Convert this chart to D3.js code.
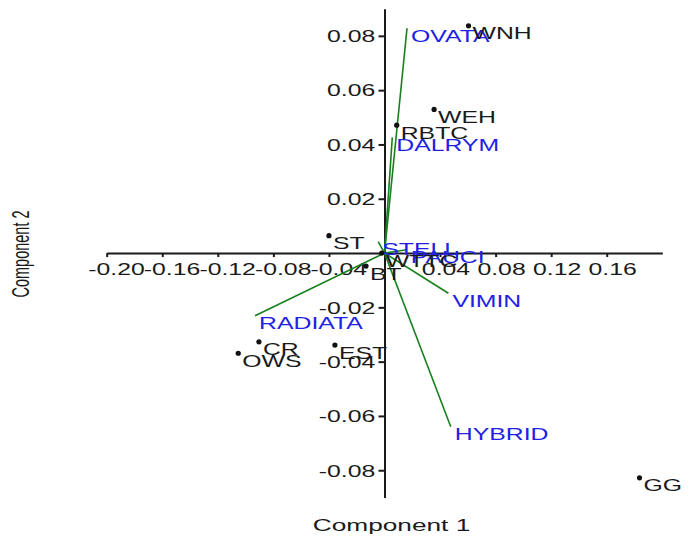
<!DOCTYPE html>
<html lang="en">

<head>
  <meta charset="UTF-8">
  <title>PCA biplot</title>
  <style>
    body {
      margin: 0px;
      background-color: #fff;
      overflow: hidden;
    }

    svg text {
      font-family: "Liberation Sans", Arial, Helvetica, sans-serif;
      font-size: 16px;
    }

    .axis path,
    .axis line {
      stroke: #1a1a1a;
      stroke-width: 2px;
    }

    .axis text {
      fill: #1a1a1a;
    }

    .vector {
      stroke: #16801c;
      stroke-width: 1.6px;
    }

    .vlabel {
      fill: #2121e3;
    }

    .plabel {
      fill: #1a1a1a;
    }
  </style>
  <script src="https://d3js.org/d3.v7.min.js"></script>
</head>

<body>
  <svg width="694" height="542"></svg>
  <script>
    // scores (rows)
    const pointNames = ["WNH", "WEH", "RBTC", "ST", "WTTC", "BT", "CR", "OWS", "EST", "GG"];
    const pointX = [0.0605, 0.0357, 0.0088, -0.0400, -0.0020, -0.0133, -0.0904, -0.1053, -0.0357, 0.1836];
    const pointY = [0.0837, 0.0529, 0.0471, 0.0064, 0.0000, -0.0048, -0.0327, -0.0369, -0.0339, -0.0828];

    // loadings (variables)
    const loadNames = ["OVATA", "DALRYM", "STELL", "PAUCI", "VIMIN", "HYBRID", "RADIATA"];
    const loadX = [0.0162, 0.0056, -0.0045, 0.0160, 0.0460, 0.0477, -0.0932];
    const loadY = [0.0828, 0.0426, 0.0042, 0.0012, -0.0148, -0.0640, -0.0231];

    const xTicks = [-0.20, -0.16, -0.12, -0.08, -0.04, 0.04, 0.08, 0.12, 0.16];
    const yTicks = [0.08, 0.06, 0.04, 0.02, -0.02, -0.04, -0.06, -0.08];

    const stretch = 1.55; // the original image text is wide
    const svg = d3.select("svg");

    const x = d3.scaleLinear().domain([-0.20, 0.20]).range([106.7, 662.3]);
    const y = d3.scaleLinear().domain([-0.09, 0.09]).range([497.4, 8.7]);

    const fmt = d => d3.format(".2f")(d).replace("\u2212", "-");

    const xAxis = svg.append("g")
      .attr("class", "axis")
      .attr("transform", `translate(0,${y(0)})`)
      .call(d3.axisBottom(x).tickValues(xTicks).tickFormat(fmt).tickSize(4).tickSizeOuter(0).tickPadding(7));
    xAxis.selectAll("text")
      .attr("x", d => d < 0 ? 6 : 3.5)
      .attr("transform", `scale(${stretch},1)`)
      .style("font-size", "16px");

    const yAxis = svg.append("g")
      .attr("class", "axis")
      .attr("transform", `translate(${x(0)},0)`)
      .call(d3.axisLeft(y).tickValues(yTicks).tickFormat(fmt).tickSize(6).tickSizeOuter(0));
    yAxis.selectAll("text")
      .attr("x", -6)
      .attr("dy", "0.36em")
      .attr("transform", `scale(${stretch},1)`)
      .style("font-size", "16px");

    // loading vectors
    const vecs = loadNames.map((n, i) => ({ name: n, vx: loadX[i], vy: loadY[i] }));
    svg.append("g").selectAll("line")
      .data(vecs)
      .enter().append("line")
      .attr("class", "vector")
      .attr("x1", x(0)).attr("y1", y(0))
      .attr("x2", d => x(d.vx)).attr("y2", d => y(d.vy));

    svg.append("g").selectAll("text")
      .data(vecs)
      .enter().append("text")
      .attr("class", "vlabel")
      .attr("transform", d => `translate(${x(d.vx) + 4},${y(d.vy) + 13.5}) scale(${stretch},1)`)
      .text(d => d.name);

    // score points
    const pts = pointNames.map((n, i) => ({ name: n, px: pointX[i], py: pointY[i] }));
    svg.append("g").selectAll("circle")
      .data(pts)
      .enter().append("circle")
      .attr("cx", d => x(d.px))
      .attr("cy", d => y(d.py))
      .attr("r", 2.6)
      .attr("fill", "#111");

    svg.append("g").selectAll("text")
      .data(pts)
      .enter().append("text")
      .attr("class", "plabel")
      .attr("transform", d => `translate(${x(d.px) + 4},${y(d.py) + 13.5}) scale(${stretch},1)`)
      .text(d => d.name);

    // axis titles
    svg.append("text")
      .attr("class", "plabel")
      .attr("text-anchor", "middle")
      .attr("transform", "translate(391.5,531) scale(1.64,1)")
      .text("Component 1");

    svg.append("text")
      .attr("class", "plabel")
      .attr("text-anchor", "middle")
      .style("font-size", "14.5px")
      .attr("transform", "translate(28.5,254) scale(1.6,1) rotate(-90)")
      .text("Component 2");
  </script>
</body>

</html>
